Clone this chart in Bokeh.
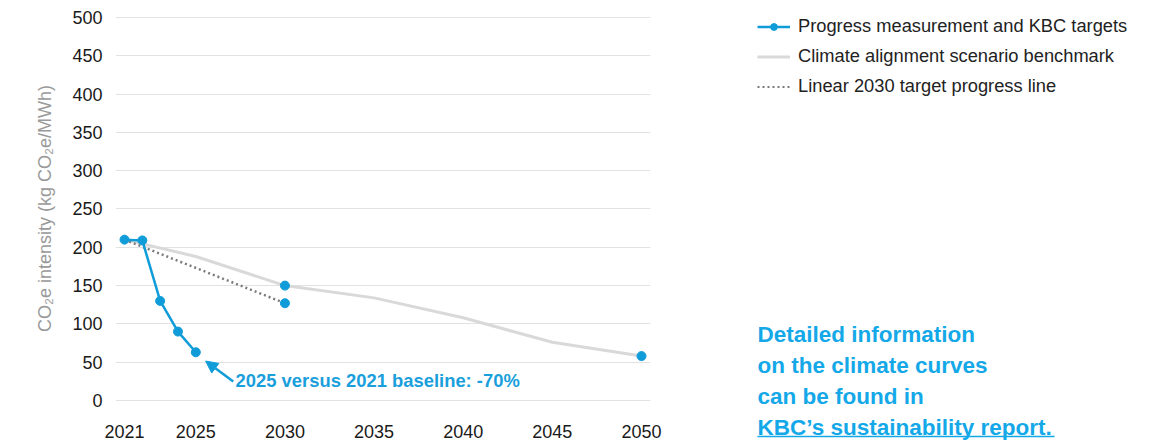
from bokeh.plotting import figure
from bokeh.layouts import row, column
from bokeh.models import (FixedTicker, Legend, LegendItem, Label, Arrow, NormalHead, Range1d)
from bokeh.core.properties import value
from bokeh.embed import file_html
from bokeh.resources import INLINE

# ---- data ----
progress_years = [2021, 2022, 2023, 2024, 2025]
progress_values = [210, 209, 130, 90, 63]
target_years = [2030, 2050]
target_values = [150, 58]
benchmark_years = [2021, 2025, 2030, 2035, 2040, 2045, 2050]
benchmark_values = [210, 188, 150, 134, 108, 76, 58]
linear_years = [2021, 2030]
linear_values = [210, 127]
x_ticks = [2021, 2025, 2030, 2035, 2040, 2045, 2050]
y_ticks = [0, 50, 100, 150, 200, 250, 300, 350, 400, 450, 500]

legend_labels = ["Progress measurement and KBC targets",
                 "Climate alignment scenario benchmark",
                 "Linear 2030 target progress line"]
annotation_text = "2025 versus 2021 baseline: -70%"
side_text = ["Detailed information", "on the climate curves",
             "can be found in", "KBC\u2019s sustainability report."]

FONT = "Liberation Sans"
BLUE = "#109cd9"
BLUE_TXT = "#14a8e8"
GRAY = "#d9d9d9"
DOT = "#7a7a7a"

# ---- main chart ----
p = figure(width=700, height=440, output_backend="svg", toolbar_location=None,
           x_range=Range1d(2020.495, 2050.505), y_range=Range1d(-9.1, 510.4),
           min_border_left=115, min_border_right=50, min_border_top=9,
           min_border_bottom=31)
p.outline_line_color = None
p.xgrid.grid_line_color = None
p.ygrid.grid_line_color = "#e2e2e2"
p.ygrid.grid_line_width = 1

p.xaxis.ticker = FixedTicker(ticks=x_ticks)
p.yaxis.ticker = FixedTicker(ticks=y_ticks)
for ax in (p.xaxis, p.yaxis):
    ax.axis_line_color = None
    ax.major_tick_line_color = None
    ax.minor_tick_line_color = None
    ax.major_label_text_font = FONT
    ax.major_label_text_font_size = "18px"
    ax.major_label_text_color = "#1a1a1a"
p.xaxis.major_label_standoff = 11
p.yaxis.major_label_standoff = 7
p.yaxis.axis_label = "CO\u2082e intensity (kg CO\u2082e/MWh)"
p.yaxis.axis_label_text_font = FONT
p.yaxis.axis_label_text_font_size = "18px"
p.yaxis.axis_label_text_font_style = "normal"
p.yaxis.axis_label_text_color = "#9a9a9a"
p.yaxis.axis_label_standoff = 14

p.line(benchmark_years, benchmark_values, line_color=GRAY, line_width=3)
p.line(linear_years, linear_values, line_color=DOT, line_width=2.5, line_dash="2 3")
p.scatter([linear_years[-1]], [linear_values[-1]], size=9, color=BLUE)
p.line(progress_years, progress_values, line_color=BLUE, line_width=2.5)
p.scatter(progress_years, progress_values, size=9, color=BLUE)
p.scatter(target_years, target_values, size=9, color=BLUE)

arrow_start = (2027.1, 24.7)
arrow_end = (2025.55, 51.5)
p.add_layout(Arrow(end=NormalHead(size=12, fill_color=BLUE, line_color=BLUE),
                   x_start=arrow_start[0], y_start=arrow_start[1],
                   x_end=arrow_end[0], y_end=arrow_end[1],
                   line_color=BLUE, line_width=2.5))
p.add_layout(Label(x=2027.23, y=26, text=annotation_text, text_font=FONT,
                   text_font_size="18.4px", text_font_style="bold",
                   text_color="#1a9fdc", text_baseline="middle", text_align="left"))

# ---- side panel: legend and note (coordinates in page pixels) ----
q = figure(width=457, height=440, output_backend="svg", toolbar_location=None,
           x_range=Range1d(700, 1157), y_range=Range1d(440, 0),
           x_axis_location=None, y_axis_location=None,
           min_border=0, min_border_left=0, min_border_right=0,
           min_border_top=0, min_border_bottom=0)
q.outline_line_color = None
q.grid.visible = False

# legend proxies (kept outside the visible range)
proxy_x = [0, 1]
proxy_y = [0, 1]
lg_prog = q.line(proxy_x, proxy_y, line_color=BLUE, line_width=2.5)
lg_pts = q.scatter(proxy_x, proxy_y, size=6, color=BLUE)
lg_bench = q.line(proxy_x, proxy_y, line_color=GRAY, line_width=3)
lg_lin = q.line(proxy_x, proxy_y, line_color=DOT, line_width=2, line_dash="2 3")

legend = Legend(items=[LegendItem(label=legend_labels[0], renderers=[lg_prog, lg_pts]),
                       LegendItem(label=legend_labels[1], renderers=[lg_bench]),
                       LegendItem(label=legend_labels[2], renderers=[lg_lin])],
                location=(57, 339), orientation="vertical")
legend.border_line_color = None
legend.background_fill_alpha = 0
legend.padding = 0
legend.margin = 0
legend.spacing = 0
legend.glyph_width = 33
legend.glyph_height = 17
legend.label_height = 30
legend.label_standoff = 8
legend.label_text_font = FONT
legend.label_text_font_size = "18.3px"
legend.label_text_color = "#222222"
q.add_layout(legend)

side_x = [757, 757, 757, 757]
side_y = [334, 365, 396, 427]
q.text(x=side_x, y=side_y, text=side_text, text_font=value(FONT),
       text_font_size="22.5px", text_font_style="bold", text_color=BLUE_TXT,
       text_baseline="middle", text_align="left")
q.segment(x0=[757], y0=[436], x1=[1054], y1=[436], line_color=BLUE_TXT, line_width=1.5)

open("out.html", "w").write(file_html(row(p, column(q)), INLINE))
